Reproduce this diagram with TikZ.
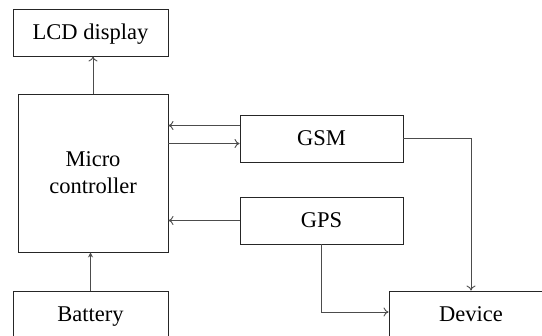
\documentclass[tikz,border=0pt]{standalone}
\usepackage{fontspec}
\setmainfont{Liberation Serif}
\usetikzlibrary{arrows.meta}
\begin{document}
\begin{tikzpicture}[x=1pt,y=-1pt,
  box/.style={draw=black!85, line width=0.9pt, inner sep=0pt, align=center,
    font=\fontsize{22.5}{27}\selectfont},
  one/.style={text height=14.5pt, text depth=0pt},
  conn/.style={draw=black!70, line width=0.9pt, -{To[length=5pt,width=9pt]}},
  connf/.style={draw=black!70, line width=0.9pt, -{Stealth[length=5pt,width=5pt]}}]
\useasboundingbox (0,0) rectangle (542,336);
\clip (0,0) rectangle (542,336);
\node[box, one, minimum width=155pt, minimum height=47pt] (lcd) at (90.5,32.5) {LCD display};
\node[box, minimum width=150pt, minimum height=158pt] (micro) at (93,173) {Micro\\controller};
\node[box, one, minimum width=163pt, minimum height=47pt] (gsm) at (321.5,138.5) {GSM};
\node[box, one, minimum width=163pt, minimum height=47pt] (gps) at (321.5,220.5) {GPS};
\node[box, one, minimum width=155pt, minimum height=46pt] (bat) at (90.5,314) {Battery};
\node[box, one, minimum width=164pt, minimum height=46pt] (dev) at (471,314) {Device};
\coordinate (a1) at ([yshift=-11pt]gsm.north west);
\coordinate (a2) at ([yshift=-29pt]gsm.north west);
\coordinate (g) at (321,312);
\draw[conn] (micro.north) -- (micro.north |- lcd.south);
\draw[conn] (a1) -- (a1 -| micro.east);
\draw[conn] (a2 -| micro.east) -- (a2);
\draw[conn] (gps.west) -- (gps.west -| micro.east);
\draw[connf] (bat.north) -- (bat.north |- micro.south);
\draw[conn] (gsm.east) -| (dev.north);
\draw[conn] (gps.south -| g) |- (g -| dev.west);
\end{tikzpicture}
\end{document}
